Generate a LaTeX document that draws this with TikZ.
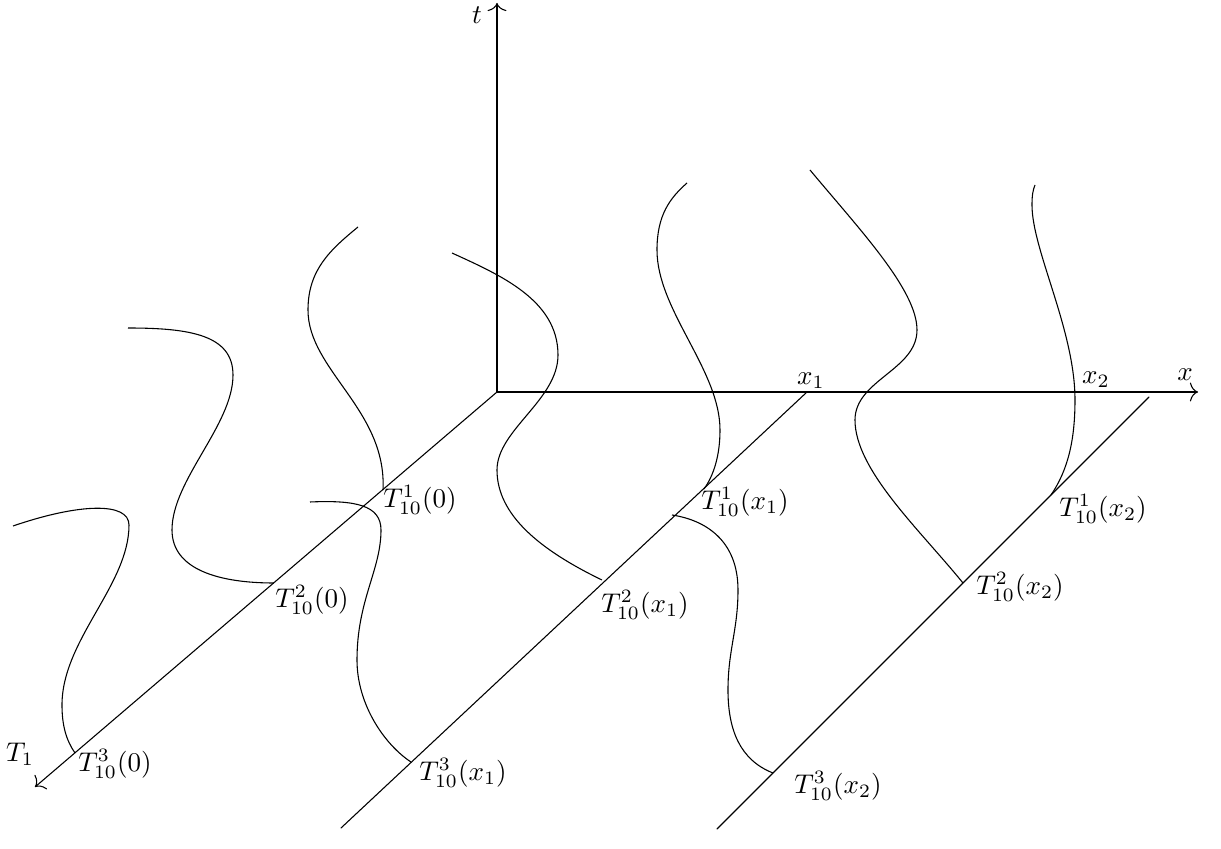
\documentclass[tikz,border=0pt]{standalone}
\usetikzlibrary{arrows,arrows.meta,calc}
\usepackage{tkz-euclide}

\begin{document}
\begin{tikzpicture}[x=0.013cm,y=-0.013cm,>={To[length=3pt,width=7pt]}]
\useasboundingbox (0,0) rectangle (1221,849);
\tkzSetUpLine[line width=0.4pt,color=black]

\tkzDefPoints{497/392/O,497/3/tT,1198/392/xT,35/787/T1}
\tkzDefPoints{807/392/X1,341/828/X1e,1149/397/X2,717/829/X2e}
\tkzDefPoints{383/490/A1,274/583/A2,75/753/A3}
\tkzDefPoints{704/489/B1,602/580/B2,411/762/B3}
\tkzDefPoints{1051/495/C1,963/583/C2,773/773/C3}

% axes
\tkzDrawSegments[->](O,tT O,xT O,T1)
\tkzDrawSegments(X1,X1e X2,X2e)

% trajectories at 0
\draw (A1) .. controls (387,410) and (308,370) .. (308,310)
           .. controls (308,270) and (330,250) .. (358,227);
\draw (A2) .. controls (220,583) and (172,570) .. (172,530)
           .. controls (172,480) and (233,425) .. (233,375)
           .. controls (233,335) and (190,328) .. (128,328);
\draw (A3) .. controls (66,740) and (62,725) .. (62,705)
           .. controls (62,640) and (129,585) .. (129,525)
           .. controls (129,502) and (80,503) .. (13,526);
% trajectories at x_1
\draw (B1) .. controls (714,475) and (720,455) .. (720,430)
           .. controls (720,370) and (657,310) .. (657,250)
           .. controls (657,215) and (670,198) .. (687,183);
\draw (B2) .. controls (540,550) and (497,515) .. (497,470)
           .. controls (497,430) and (558,400) .. (558,355)
           .. controls (558,300) and (500,275) .. (452,253);
\draw (B3) .. controls (385,745) and (357,705) .. (357,660)
           .. controls (357,600) and (381,570) .. (381,530)
           .. controls (381,505) and (355,500) .. (310,502);
% trajectories at x_2
\draw (C1) .. controls (1068,470) and (1075,440) .. (1075,400)
           .. controls (1075,330) and (1032,250) .. (1032,205)
           .. controls (1032,195) and (1033,190) .. (1035,185);
\draw (C2) .. controls (920,530) and (855,470) .. (855,420)
           .. controls (855,380) and (917,370) .. (917,330)
           .. controls (917,290) and (860,230) .. (810,170);
\draw (C3) .. controls (740,760) and (728,730) .. (728,690)
           .. controls (728,650) and (738,630) .. (738,590)
           .. controls (738,540) and (705,520) .. (672,515);

% labels
\node (lt) at (477,15) {$t$};
\node (lx) at (1185,375) {$x$};
\node (lT) at (20,754) {$T_1$};
\node (lx1) at (811,381) {$x_1$};
\node (lx2) at (1096,380) {$x_2$};
\node (lA1) at (420,500) {$T^1_{10}(0)$};
\node (lA2) at (312,600) {$T^2_{10}(0)$};
\node (lA3) at (115,764) {$T^3_{10}(0)$};
\node (lB1) at (745,502) {$T^1_{10}(x_1)$};
\node (lB2) at (645,605) {$T^2_{10}(x_1)$};
\node (lB3) at (463,773) {$T^3_{10}(x_1)$};
\node (lC1) at (1103,509) {$T^1_{10}(x_2)$};
\node (lC2) at (1020,587) {$T^2_{10}(x_2)$};
\node (lC3) at (838,786) {$T^3_{10}(x_2)$};

\end{tikzpicture}
\end{document}
